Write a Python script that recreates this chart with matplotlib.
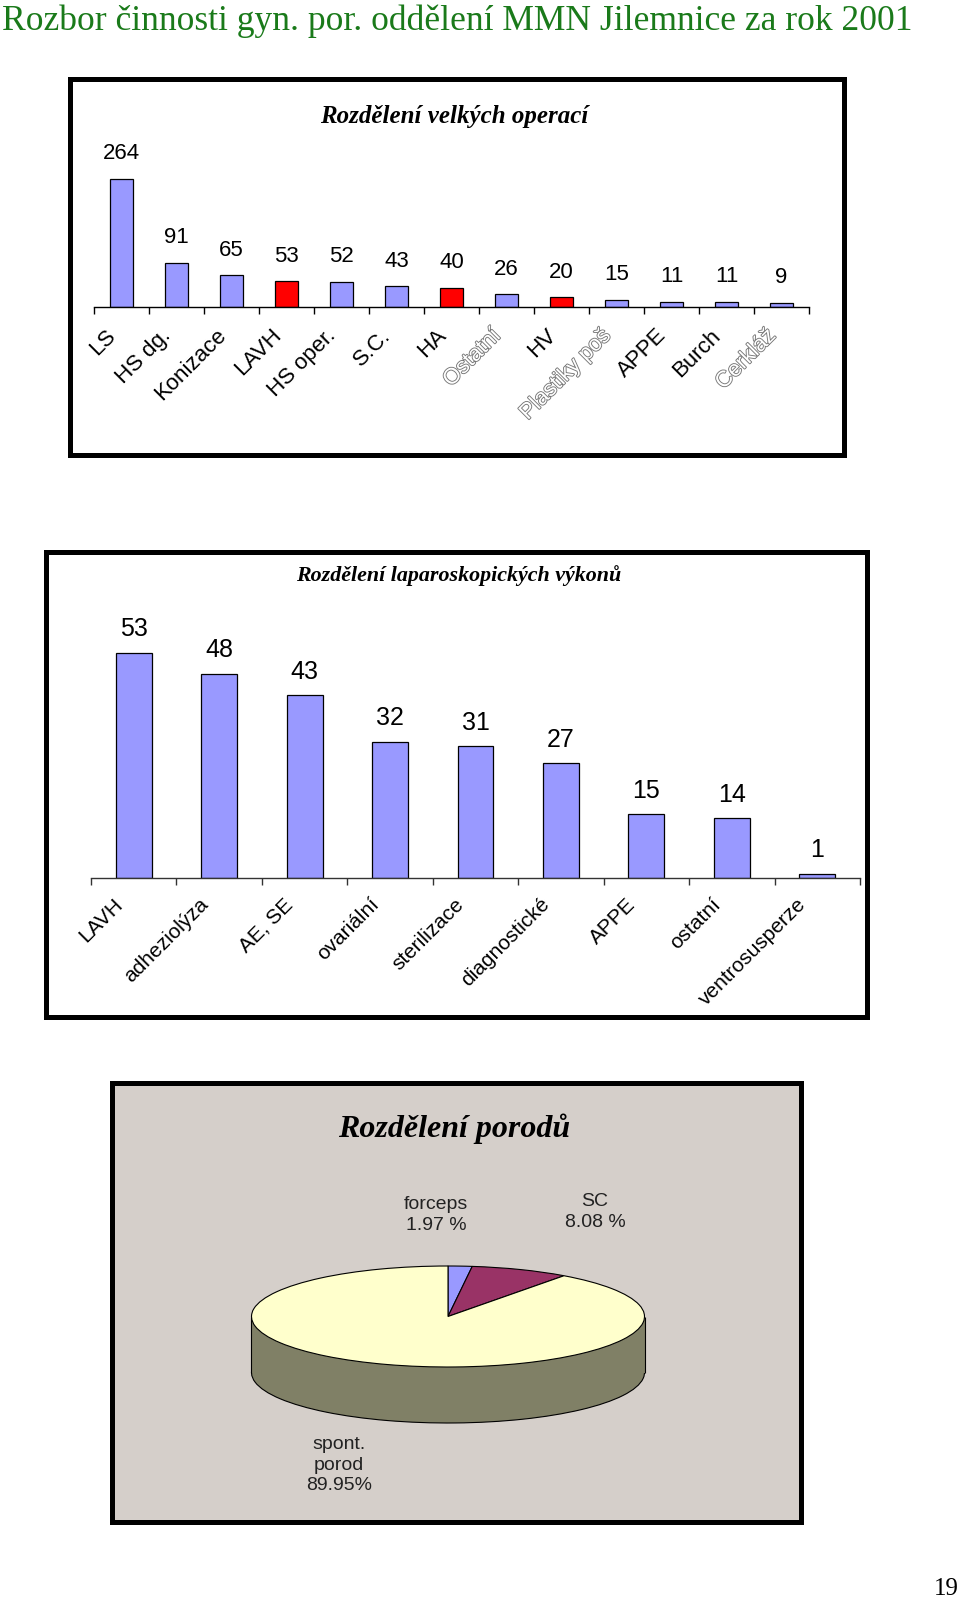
import matplotlib
matplotlib.use("Agg")
import matplotlib.pyplot as plt
import matplotlib.patheffects as pe
from matplotlib.patches import Rectangle
from matplotlib.transforms import ScaledTranslation
import numpy as np

W, H = 960, 1600

page_title = "Rozbor činnosti gyn. por. oddělení MMN Jilemnice za rok 2001"
page_number = "19"

major_title = "Rozdělení velkých operací"
major_ops = ["LS", "HS dg.", "Konizace", "LAVH", "HS oper.", "S.C.", "HA", "Ostatní",
             "HV", "Plastiky poš", "APPE", "Burch", "Cerkláž"]
major_counts = [264, 91, 65, 53, 52, 43, 40, 26, 20, 15, 11, 11, 9]

lap_title = "Rozdělení laparoskopických výkonů"
lap_ops = ["LAVH", "adheziolýza", "AE, SE", "ovariální", "sterilizace", "diagnostické",
           "APPE", "ostatní", "ventrosusperze"]
lap_counts = [53, 48, 43, 32, 31, 27, 15, 14, 1]

birth_title = "Rozdělení porodů"
birth_types = ["forceps", "SC", "spont.\nporod"]
birth_pct = [1.97, 8.08, 89.95]
pct_sep = [" ", " ", ""]

BLUE = "#9999FF"
RED = "#FF0000"
highlight = {"LAVH", "HA", "HV"}
hollow = {"Ostatní", "Plastiky poš", "Cerkláž"}
SANS = ["Liberation Sans", "DejaVu Sans"]
SERIF = ["Liberation Serif", "DejaVu Serif"]

plt.rcParams["font.family"] = SANS


def px_axes(fig, left, top, right, bottom):
    return fig.add_axes([left / W, 1 - bottom / H, (right - left) / W, (bottom - top) / H])


def frame(fig, left, top, right, bottom, face="none", lw=3.6):
    fig.add_artist(Rectangle((left / W, 1 - bottom / H), (right - left) / W, (bottom - top) / H,
                             transform=fig.transFigure, facecolor=face, edgecolor="black",
                             linewidth=lw, zorder=-1))


def bar_panel(ax, names, counts, colors, ymax, width, tick_size, val_size, val_off, pad,
              shift, axis_color):
    x = np.arange(len(names))
    ax.bar(x, counts, width=width, color=colors, edgecolor="black", linewidth=0.9, zorder=2)
    for i, v in enumerate(counts):
        ax.annotate(str(v), (i, v), xytext=(0, val_off), textcoords="offset points",
                    ha="center", va="center", fontsize=val_size, color="black")
    ax.set_xlim(-0.5, len(names) - 0.5)
    ax.set_ylim(0, ymax)
    ax.set_facecolor("none")
    for s in ["top", "left", "right"]:
        ax.spines[s].set_visible(False)
    ax.spines["bottom"].set_color(axis_color)
    ax.spines["bottom"].set_linewidth(1.0)
    ax.set_yticks([])
    ax.set_xticks(x)
    ax.set_xticks(np.arange(-0.5, len(names)), minor=True)
    ax.tick_params(axis="x", which="major", length=0, pad=pad)
    ax.tick_params(axis="x", which="minor", length=5, width=1.0, color=axis_color, direction="out")
    labels = ax.set_xticklabels(names, rotation=45, ha="right", va="top",
                                rotation_mode="anchor", fontsize=tick_size)
    offset = ScaledTranslation(shift[0] / 100, shift[1] / 100, fig.dpi_scale_trans)
    for lab in labels:
        lab.set_transform(lab.get_transform() + offset)
        if lab.get_text() in hollow:
            lab.set_color("white")
            lab.set_path_effects([pe.withStroke(linewidth=1.3, foreground="#777777")])


fig = plt.figure(figsize=(W / 100, H / 100), dpi=100)
fig.patch.set_facecolor("white")

fig.text(2 / W, 1 - 21 / H, page_title, family=SERIF, fontsize=25.6, color="#1A7A1A",
         ha="left", va="center")
fig.text(959 / W, 1 - 1589 / H, page_number, family=SERIF, fontsize=18, color="black",
         ha="right", va="center")

# --- chart 1: large operations ---
frame(fig, 70, 79, 844, 455)
fig.text(454 / W, 1 - 117 / H, major_title, family=SERIF, fontsize=18, fontweight="bold",
         fontstyle="italic", ha="center", va="center")
ax1 = px_axes(fig, 94, 166, 809, 307)
bar_panel(ax1, major_ops, major_counts,
          [RED if n in highlight else BLUE for n in major_ops],
          ymax=290, width=0.43, tick_size=16, val_size=16, val_off=18, pad=8,
          shift=(-16, -7), axis_color="black")

# --- chart 2: laparoscopic procedures ---
frame(fig, 46, 552, 867, 1017)
fig.text(459 / W, 1 - 576 / H, lap_title, family=SERIF, fontsize=15.8, fontweight="bold",
         fontstyle="italic", ha="center", va="center")
ax2 = px_axes(fig, 91, 623, 860, 878)
bar_panel(ax2, lap_ops, lap_counts, [BLUE] * len(lap_ops),
          ymax=60, width=0.42, tick_size=15, val_size=18, val_off=17, pad=12,
          shift=(-21, 0), axis_color="#333333")

# --- chart 3: births (3D-style pie) ---
frame(fig, 112, 1083, 801, 1522, face="#D5CFCA")
fig.text(454 / W, 1 - 1129 / H, birth_title, family=SERIF, fontsize=23, fontweight="bold",
         fontstyle="italic", ha="center", va="center")

cx, cy, rx, ry, depth = 448, 1316.5, 196.5, 50.5, 56
d = depth / ry
ax3 = px_axes(fig, cx - 1.05 * rx, cy - 1.05 * ry, cx + 1.05 * rx, cy + (1 + d + 0.06) * ry)
side = "#808066"
ax3.pie(birth_pct, colors=[side] * 3, center=(0, -d), startangle=90, counterclock=False,
        wedgeprops=dict(edgecolor="black", linewidth=0.8))
ax3.add_patch(Rectangle((-1, -d), 2, d, facecolor=side, edgecolor="none"))
ax3.vlines([-1, 1], -d, 0, color="black", linewidth=0.8)
ax3.pie(birth_pct, colors=[BLUE, "#993366", "#FFFFCC"], startangle=90, counterclock=False,
        wedgeprops=dict(edgecolor="black", linewidth=0.8))
ax3.set_aspect("auto")
ax3.set_xlim(-1.05, 1.05)
ax3.set_ylim(-1 - d - 0.06, 1.05)
ax3.set_facecolor("none")
ax3.axis("off")

label_pos = [(436, 1215), (595, 1212), (339, 1465)]
for name, pct, sep, (lx, ly) in zip(birth_types, birth_pct, pct_sep, label_pos):
    fig.text(lx / W, 1 - ly / H, f"{name}\n{pct:.2f}{sep}%", fontsize=14, color="#222222",
             ha="center", va="center", linespacing=1.3)

fig.savefig("out.png", dpi=100)
